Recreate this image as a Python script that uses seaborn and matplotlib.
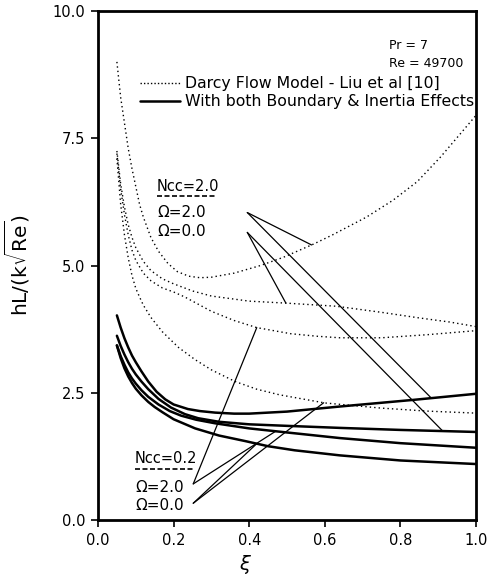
import numpy as np
import pandas as pd
import matplotlib
matplotlib.use("Agg")
import matplotlib.pyplot as plt
import seaborn as sns
from matplotlib.lines import Line2D

# ---- data ----
# Darcy flow model (dotted)
d1_x = [0.05, 0.06, 0.07, 0.08, 0.09, 0.1, 0.11, 0.12, 0.14, 0.16, 0.185, 0.21, 0.24, 0.27, 0.3, 0.36, 0.43, 0.49, 0.57, 0.62, 0.71, 0.78, 0.845, 0.906, 0.96, 1.0]
d1_y = [9.0, 8.3, 7.8, 7.3, 6.9, 6.55, 6.2, 5.95, 5.55, 5.28, 5.04, 4.88, 4.79, 4.76, 4.77, 4.85, 5.0, 5.16, 5.42, 5.6, 5.95, 6.28, 6.65, 7.13, 7.6, 7.95]
d2_x = [0.05, 0.06, 0.07, 0.08, 0.09, 0.1, 0.12, 0.14, 0.17, 0.2, 0.25, 0.3, 0.4, 0.5, 0.63, 0.75, 0.85, 0.93, 1.0]
d2_y = [7.25, 6.6, 6.15, 5.8, 5.55, 5.35, 5.08, 4.9, 4.74, 4.64, 4.5, 4.4, 4.3, 4.26, 4.2, 4.08, 3.97, 3.89, 3.80]
d3_x = [0.05, 0.06, 0.07, 0.08, 0.09, 0.1, 0.12, 0.14, 0.17, 0.2, 0.23, 0.26, 0.3, 0.36, 0.42, 0.51, 0.58, 0.64, 0.75, 0.87, 1.0]
d3_y = [7.2, 6.5, 6.0, 5.6, 5.3, 5.1, 4.85, 4.7, 4.56, 4.48, 4.38, 4.26, 4.1, 3.92, 3.78, 3.66, 3.61, 3.58, 3.58, 3.64, 3.72]
d4_x = [0.05, 0.06, 0.07, 0.08, 0.09, 0.1, 0.11, 0.12, 0.14, 0.17, 0.213, 0.257, 0.3, 0.363, 0.42, 0.48, 0.6, 0.747, 0.87, 1.0]
d4_y = [7.1, 6.2, 5.6, 5.15, 4.8, 4.55, 4.38, 4.22, 3.98, 3.7, 3.39, 3.15, 2.95, 2.72, 2.57, 2.46, 2.3, 2.2, 2.14, 2.1]
# With both boundary & inertia effects (solid)
s1_x = [0.05, 0.06, 0.07, 0.08, 0.09, 0.1, 0.115, 0.133, 0.155, 0.178, 0.2, 0.238, 0.27, 0.31, 0.36, 0.4, 0.5, 0.64, 0.834, 1.0]
s1_y = [4.02, 3.78, 3.57, 3.39, 3.23, 3.1, 2.92, 2.72, 2.52, 2.37, 2.27, 2.18, 2.14, 2.11, 2.09, 2.09, 2.13, 2.23, 2.36, 2.48]
s2_x = [0.05, 0.06, 0.07, 0.08, 0.09, 0.1, 0.115, 0.133, 0.16, 0.193, 0.23, 0.265, 0.32, 0.4, 0.5, 0.64, 0.8, 1.0]
s2_y = [3.62, 3.42, 3.25, 3.1, 2.97, 2.86, 2.72, 2.57, 2.38, 2.21, 2.08, 2.0, 1.93, 1.88, 1.85, 1.81, 1.77, 1.73]
s3_x = [0.05, 0.06, 0.07, 0.08, 0.09, 0.1, 0.115, 0.133, 0.16, 0.19, 0.22, 0.26, 0.31, 0.4, 0.5, 0.64, 0.8, 1.0]
s3_y = [3.43, 3.22, 3.05, 2.9, 2.78, 2.68, 2.55, 2.42, 2.27, 2.14, 2.05, 1.97, 1.9, 1.8, 1.72, 1.61, 1.51, 1.42]
s4_x = [0.05, 0.06, 0.07, 0.08, 0.09, 0.1, 0.115, 0.133, 0.15, 0.17, 0.2, 0.257, 0.32, 0.39, 0.45, 0.52, 0.64, 0.8, 1.0]
s4_y = [3.43, 3.18, 2.98, 2.82, 2.69, 2.58, 2.45, 2.32, 2.22, 2.12, 1.98, 1.8, 1.66, 1.55, 1.45, 1.37, 1.27, 1.17, 1.10]

x_ticks = [0.0, 0.2, 0.4, 0.6, 0.8, 1.0]
y_ticks = [0.0, 2.5, 5.0, 7.5, 10.0]
legend_labels = ["Darcy Flow Model - Liu et al [10]", "With both Boundary & Inertia Effects"]

frames = []
for name, xs, ys, kind in [("d1", d1_x, d1_y, "darcy"), ("d2", d2_x, d2_y, "darcy"),
                           ("d3", d3_x, d3_y, "darcy"), ("d4", d4_x, d4_y, "darcy"),
                           ("s1", s1_x, s1_y, "full"), ("s2", s2_x, s2_y, "full"),
                           ("s3", s3_x, s3_y, "full"), ("s4", s4_x, s4_y, "full")]:
    frames.append(pd.DataFrame({"xi": xs, "h": ys, "curve": name, "kind": kind}))
df = pd.concat(frames, ignore_index=True)

sns.set_style("ticks")
plt.rcParams['font.family'] = ['DejaVu Sans']
plt.rcParams['mathtext.fontset'] = 'dejavusans'
plt.rcParams['text.color'] = 'black'
plt.rcParams['axes.labelcolor'] = 'black'
plt.rcParams['xtick.color'] = 'black'
plt.rcParams['ytick.color'] = 'black'

fig = plt.figure(figsize=(4.89, 5.78), dpi=100)
ax = fig.add_axes([0.2004, 0.1003, 0.773, 0.8807])

for name, g in df.groupby("curve", sort=False):
    kind = g["kind"].iloc[0]
    if kind == "darcy":
        sns.lineplot(data=g, x="xi", y="h", ax=ax, color="black", lw=1.0,
                     linestyle=(0, (1, 2.2)), sort=False, estimator=None, legend=False)
    else:
        sns.lineplot(data=g, x="xi", y="h", ax=ax, color="black", lw=1.8,
                     sort=False, estimator=None, legend=False)

ax.set_xlim(0.0, 1.0)
ax.set_ylim(0.0, 10.0)
ax.set_xticks(x_ticks)
ax.set_yticks(y_ticks)
ax.set_xticklabels([f"{v:.1f}" for v in x_ticks])
ax.set_yticklabels([f"{v:.1f}" for v in y_ticks])
ax.tick_params(axis="both", labelsize=10.5, width=1.2, length=5, direction="out",
               pad=4, colors="black")
for s in ax.spines.values():
    s.set_linewidth(2.0)
    s.set_color("black")
    s.set_visible(True)

ax.set_xlabel(r"$\xi$", fontsize=14)
ax.xaxis.set_label_coords(0.39, -0.065)
ax.set_ylabel(r"hL/(k$\sqrt{\mathrm{Re}}$)", fontsize=14.5)
ax.yaxis.set_label_coords(-0.175, 0.5)

# legend
handles = [Line2D([], [], color="black", lw=1.0, linestyle=(0, (1, 1.5))),
           Line2D([], [], color="black", lw=1.8)]
ax.legend(handles, legend_labels, loc="upper left", bbox_to_anchor=(0.11, 0.872),
          frameon=False, fontsize=11.3, handlelength=2.6, handletextpad=0.3,
          labelspacing=0.2, borderaxespad=0, borderpad=0, labelcolor="black")

# parameter text
ax.text(0.77, 9.33, "Pr = 7", fontsize=9, va="center", ha="left")
ax.text(0.77, 8.97, "Re = 49700", fontsize=9, va="center", ha="left")

# group labels
ax.text(0.156, 6.55, "Ncc=2.0", fontsize=10.5, va="center", ha="left")
ax.plot([0.156, 0.315], [6.36, 6.36], color="black", lw=1.2, linestyle=(0, (3, 1.5)))
ax.text(0.156, 6.04, "Ω=2.0", fontsize=11, va="center", ha="left")
ax.text(0.156, 5.66, "Ω=0.0", fontsize=11, va="center", ha="left")

ax.text(0.098, 1.20, "Ncc=0.2", fontsize=10.5, va="center", ha="left")
ax.plot([0.098, 0.257], [1.0, 1.0], color="black", lw=1.2, linestyle=(0, (3, 1.5)))
ax.text(0.098, 0.63, "Ω=2.0", fontsize=11, va="center", ha="left")
ax.text(0.098, 0.28, "Ω=0.0", fontsize=11, va="center", ha="left")

# leader lines: (tip), x on curve, curve arrays
leaders = [
    ((0.395, 6.04), 0.565, d1_x, d1_y),
    ((0.395, 6.04), 0.882, s1_x, s1_y),
    ((0.395, 5.65), 0.497, d2_x, d2_y),
    ((0.395, 5.65), 0.912, s2_x, s2_y),
    ((0.252, 0.71), 0.42, d3_x, d3_y),
    ((0.252, 0.71), 0.47, s3_x, s3_y),
    ((0.252, 0.33), 0.597, d4_x, d4_y),
    ((0.252, 0.33), 0.42, s4_x, s4_y),
]
for (tx, ty), cx, xs, ys in leaders:
    cy = float(np.interp(cx, xs, ys))
    ax.annotate("", xy=(cx, cy), xytext=(tx, ty),
                arrowprops=dict(arrowstyle="-", color="black", lw=0.9,
                                shrinkA=0, shrinkB=0))

fig.savefig("out.png", dpi=100)
